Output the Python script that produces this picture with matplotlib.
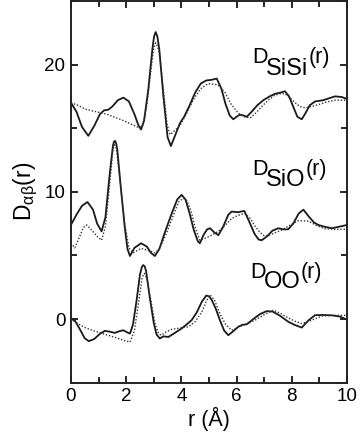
import matplotlib
matplotlib.use("Agg")
import matplotlib.pyplot as plt
from matplotlib.ticker import MultipleLocator

plt.rcParams['font.family'] = ['Liberation Sans', 'DejaVu Sans']

# D_SiSi(r), offset curve near 17
sisi_r = [0.0, 0.2, 0.4, 0.63, 0.85, 1.05, 1.2, 1.35, 1.5, 1.7, 1.9, 2.1, 2.3, 2.45, 2.54,
          2.65, 2.8, 2.95, 3.01, 3.07, 3.13, 3.2, 3.35, 3.5, 3.62, 3.75, 3.95, 4.1, 4.3, 4.5,
          4.7, 4.9, 5.1, 5.28, 5.45, 5.6, 5.75, 5.88, 6.0, 6.12, 6.25, 6.37, 6.55, 6.75, 6.97,
          7.2, 7.39, 7.6, 7.75, 7.9, 8.05, 8.2, 8.36, 8.5, 8.65, 8.84, 9.0, 9.14, 9.35, 9.57,
          9.8, 10.0]
sisi_d = [17.0, 16.3, 15.1, 14.4, 15.2, 16.1, 16.4, 16.45, 16.7, 17.2, 17.4, 17.1, 16.1, 15.2, 14.9,
          15.6, 18.0, 21.2, 22.2, 22.55, 22.2, 21.2, 17.5, 14.3, 13.6, 14.3, 15.4, 15.9, 16.8, 17.8,
          18.5, 18.75, 18.8, 18.9, 18.1, 16.9, 16.0, 15.7, 15.9, 16.06, 16.0, 15.9, 16.3, 16.8, 17.2,
          17.5, 17.7, 17.8, 17.9, 17.5, 16.7, 15.9, 15.7, 16.2, 16.8, 17.1, 17.15, 17.2, 17.35, 17.5,
          17.45, 17.3]
sisi_ref_r = [0.0, 0.25, 0.51, 0.8, 1.1, 1.35, 1.6, 1.9, 2.2, 2.45, 2.6, 2.75, 2.9, 3.0, 3.07,
              3.14, 3.2, 3.35, 3.48, 3.59, 3.75, 3.95, 4.2, 4.45, 4.7, 4.97, 5.15, 5.33, 5.58,
              5.8, 6.05, 6.25, 6.49, 6.7, 6.91, 7.15, 7.39, 7.6, 7.75, 7.95, 8.12, 8.3, 8.48,
              8.7, 8.96, 9.25, 9.57, 10.0]
sisi_ref_d = [17.0, 16.8, 16.5, 16.35, 16.2, 16.06, 15.85, 15.6, 15.3, 15.05, 15.2, 16.8, 19.6, 21.3, 21.7,
              21.4, 20.9, 18.0, 15.3, 14.5, 14.8, 15.2, 16.2, 17.3, 18.1, 18.5, 18.45, 18.4, 17.8,
              16.9, 16.2, 15.9, 15.8, 16.2, 16.7, 17.2, 17.6, 17.7, 17.7, 17.35, 17.0, 16.7, 16.6,
              16.7, 16.85, 17.05, 17.2, 17.2]

# D_SiO(r), offset curve near 7
sio_r = [0.0, 0.2, 0.4, 0.6, 0.8, 0.95, 1.11, 1.25, 1.4, 1.52, 1.56, 1.6, 1.64, 1.68, 1.8,
         1.95, 2.05, 2.14, 2.3, 2.54, 2.75, 2.9, 3.04, 3.2, 3.4, 3.65, 3.85, 4.01, 4.15, 4.3,
         4.45, 4.6, 4.67, 4.8, 4.93, 5.04, 5.2, 5.34, 5.5, 5.7, 5.82, 6.05, 6.28, 6.45, 6.65,
         6.8, 6.91, 7.1, 7.3, 7.51, 7.7, 7.87, 8.05, 8.25, 8.42, 8.6, 8.8, 8.96, 9.2, 9.45,
         9.7, 10.0]
sio_d = [7.4, 8.2, 8.9, 9.2, 8.6, 7.5, 6.9, 8.0, 11.3, 13.6, 13.95, 14.0, 13.8, 13.3, 10.5,
         7.2, 5.5, 4.96, 5.6, 5.96, 5.7, 5.2, 4.96, 5.5, 6.8, 8.3, 9.4, 9.76, 9.4, 8.3,
         7.0, 6.1, 5.96, 6.6, 7.05, 7.14, 6.8, 6.6, 7.2, 8.2, 8.45, 8.4, 8.5, 7.7, 6.7,
         6.25, 6.2, 6.5, 6.95, 7.14, 7.05, 7.06, 7.5, 8.3, 8.6, 8.1, 7.6, 7.4, 7.25, 7.14,
         7.25, 7.4]
sio_ref_r = [0.0, 0.14, 0.3, 0.45, 0.57, 0.75, 0.95, 1.11, 1.25, 1.4, 1.52, 1.58, 1.63, 1.67, 1.8,
             1.95, 2.1, 2.25, 2.54, 2.8, 3.04, 3.2, 3.45, 3.7, 3.9, 4.07, 4.2, 4.35, 4.5, 4.67,
             4.86, 5.1, 5.34, 5.6, 5.82, 6.05, 6.3, 6.5, 6.67, 6.85, 7.03, 7.3, 7.63, 7.95, 8.24,
             8.6, 8.9, 9.2, 9.6, 10.0]
sio_ref_d = [6.0, 5.6, 6.4, 7.2, 7.4, 7.0, 6.5, 6.2, 7.3, 10.5, 13.3, 13.7, 13.5, 13.0, 10.5,
             7.5, 5.6, 5.2, 5.56, 5.4, 5.2, 5.5, 6.7, 8.1, 9.2, 9.5, 9.3, 8.5, 7.2, 6.2,
             6.35, 6.6, 6.9, 7.4, 7.9, 8.15, 8.3, 7.9, 7.3, 6.8, 6.5, 6.7, 7.0, 7.4, 7.74,
             7.7, 7.35, 7.1, 7.05, 7.06]

# D_OO(r), around 0
oo_r = [0.0, 0.14, 0.3, 0.5, 0.65, 0.85, 1.05, 1.23, 1.4, 1.59, 1.75, 1.9, 2.05, 2.14, 2.25,
        2.38, 2.5, 2.57, 2.62, 2.67, 2.72, 2.85, 3.0, 3.1, 3.22, 3.35, 3.53, 3.75, 4.01, 4.2,
        4.37, 4.55, 4.75, 4.9, 5.0, 5.1, 5.25, 5.4, 5.55, 5.7, 5.85, 6.06, 6.2, 6.37, 6.6,
        6.85, 7.09, 7.3, 7.55, 7.87, 8.1, 8.36, 8.6, 8.84, 9.1, 9.45, 9.75, 10.0]
oo_d = [0.0, -0.1, -0.7, -1.5, -1.73, -1.55, -1.15, -0.92, -0.98, -1.08, -0.95, -0.87, -1.05, -1.13, -0.4,
        1.5, 3.5, 4.1, 4.25, 4.15, 3.8, 1.8, -0.3, -1.2, -1.52, -1.35, -1.4, -1.1, -0.73, -0.4,
        -0.08, 0.5, 1.4, 1.85, 1.8, 1.5, 0.8, -0.1, -0.9, -1.26, -1.0, -0.6, -0.45, -0.4, 0.0,
        0.4, 0.63, 0.6, 0.3, -0.2, -0.45, -0.66, -0.1, 0.31, 0.33, 0.3, 0.2, -0.05]
oo_ref_r = [0.0, 0.25, 0.51, 0.8, 1.1, 1.4, 1.7, 1.95, 2.14, 2.3, 2.45, 2.58, 2.66, 2.75, 2.9,
            3.05, 3.18, 3.28, 3.45, 3.65, 3.95, 4.25, 4.5, 4.75, 4.9, 5.04, 5.2, 5.4, 5.6, 5.82,
            6.0, 6.2, 6.45, 6.67, 7.0, 7.33, 7.6, 7.87, 8.1, 8.36, 8.7, 9.1, 9.5, 10.0]
oo_ref_d = [0.0, -0.35, -0.66, -0.9, -1.1, -1.3, -1.5, -1.7, -1.8, -0.9, 1.3, 3.3, 3.6, 3.2, 1.4,
            -0.4, -1.15, -1.26, -1.0, -0.8, -0.7, -0.6, -0.2, 0.6, 1.4, 1.9, 1.5, 0.4, -0.4, -0.87,
            -0.7, -0.5, -0.3, -0.08, 0.35, 0.7, 0.45, 0.1, -0.15, -0.35, -0.1, 0.25, 0.3, 0.3]

# subscript text, D position, subscript position
curve_labels = [("SiSi", 6.56, 20.13, 7.06, 19.21),
                ("SiO", 6.55, 11.34, 7.06, 10.42),
                ("OO", 6.49, 3.20, 6.98, 2.42)]


def main():
    fig = plt.figure(figsize=(3.6, 4.37), dpi=100)
    ax = fig.add_axes([0.197, 0.124, 0.767, 0.874])

    solid = dict(color='#1a1a1a', lw=1.3, ls='-', solid_joinstyle='round')
    dotted = dict(color='#333333', lw=1.0, ls=(0, (1, 1.3)))

    ax.plot(sisi_r, sisi_d, **solid)
    ax.plot(sisi_ref_r, sisi_ref_d, **dotted)
    ax.plot(sio_r, sio_d, **solid)
    ax.plot(sio_ref_r, sio_ref_d, **dotted)
    ax.plot(oo_r, oo_d, **solid)
    ax.plot(oo_ref_r, oo_ref_d, **dotted)

    #curve labels: D, subscript at nearly same size, then (r) raised back to D's baseline
    for sub, dx, dy, sx, sy in curve_labels:
        td = ax.text(dx, dy, "D", fontsize=15.5, ha='left', va='baseline')
        ts = ax.text(sx, sy, sub, fontsize=17, ha='left', va='baseline')
        ax.annotate("(r)", xy=(1.0, 0.0), xycoords=(ts, td), xytext=(0.5, 0),
                    textcoords='offset points', fontsize=15.5,
                    ha='left', va='bottom')

    ax.set_xlim(0, 10)
    ax.set_ylim(-5, 25)
    ax.xaxis.set_major_locator(MultipleLocator(2))
    ax.xaxis.set_minor_locator(MultipleLocator(1))
    ax.yaxis.set_major_locator(MultipleLocator(10))
    ax.yaxis.set_minor_locator(MultipleLocator(5))
    ax.tick_params(which='both', direction='in', top=True, right=True, width=1.2,
                   labelsize=13.5, pad=4)
    ax.tick_params(which='major', length=5)
    ax.tick_params(which='minor', length=4)
    for s in ax.spines.values():
        s.set_linewidth(1.4)
        s.set_color('#222222')

    ax.set_xlabel("r (Å)", fontsize=15.5, labelpad=1)
    ax.set_ylabel(r"D$_{\mathregular{αβ}}$(r)", fontsize=16.5, labelpad=3)

    fig.savefig("out.png", dpi=100)


if __name__ == '__main__':
    main()
